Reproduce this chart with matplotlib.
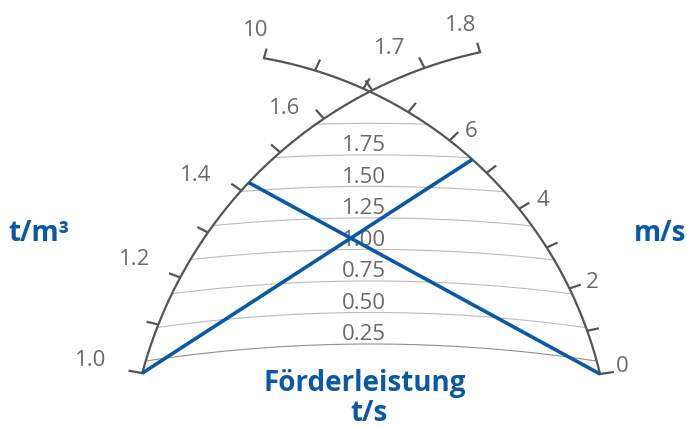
"""Nomogram: Förderleistung (t/s) from bulk density (t/m³) and belt speed (m/s)."""

import numpy as np
import matplotlib.pyplot as plt

# --- data ---------------------------------------------------------------
speed_ticks = [0, 1, 2, 3, 4, 5, 6, 7, 8, 9, 10]  # m/s, right scale
speed_labels = ["0", "", "2", "", "4", "", "6", "", "", "", "10"]
# t/m³, left scale: one entry per tick, evenly spaced along the arc
density_labels = ["1.0", "", "1.2", "", "1.4", "", "1.6", "", "1.7", "1.8"]
capacity_levels = [0.25, 0.50, 0.75, 1.00, 1.25, 1.50, 1.75, 2.00]  # t/s
capacity_labels = ["0.25", "0.50", "0.75", "1.00", "1.25", "1.50", "1.75", ""]

# worked examples: start on density scale (tick position) -> speed (m/s)
example_density_pos = [4.2, 0.0]
example_speed = [0.0, 5.4]

# --- layout / style -------------------------------------------------------
W, H, DPI = 687, 428, 100
GREY = "#555555"
LABEL_GREY = "#6a6a6a"
BLUE = "#0b59a6"
FONT = ["Open Sans", "DejaVu Sans"]

# circles of the two scales in pixel space (y pointing down)
LEFT_C, LEFT_R = (573.5, 488.9), 446.5
RIGHT_C, RIGHT_R = (191.8, 471.8), 419.8
ISO_C = (371.0, 1844.0)

# label offsets from their tick (px, y down), label centre
LABEL_OFFSET = {
    "1.0": (-52, -15), "1.2": (-46, -20), "1.4": (-46, -18),
    "1.6": (-39, -13), "1.7": (-35, -22), "1.8": (-19, -29),
    "0": (22, -10), "2": (23, -8), "4": (24, -11), "6": (22, -11),
    "10": (-8, -30),
}


def density_theta(pos):
    return np.radians(164.97 - 6.515 * pos - 0.0526 * pos ** 2)


def speed_theta(v):
    return np.radians(13.47 + 6.108 * v + 0.0555 * v ** 2)


def iso_radius(q):
    return 1500.0 + 126.1 * (q - 0.25)


def point(centre, r, th):
    return centre[0] + r * np.cos(th), centre[1] - r * np.sin(th)


def draw_tick(ax, p, ang, length):
    ax.plot([p[0], p[0] + length * np.cos(ang)], [p[1], p[1] - length * np.sin(ang)],
            color=GREY, lw=1.6, solid_capstyle="butt", zorder=3)


def draw_label(ax, p, text):
    dx, dy = LABEL_OFFSET[text]
    ax.text(p[0] + dx, p[1] + dy + 8, text, ha="center", va="baseline",
            fontsize=16, color=LABEL_GREY, family=FONT, zorder=2)


fig = plt.figure(figsize=(W / DPI, H / DPI), dpi=DPI)
ax = fig.add_axes([0, 0, 1, 1])
ax.set_xlim(0, W)
ax.set_ylim(H, 0)
ax.axis("off")

# capacity isolines, clipped to the lens between the two scales
for q, lab in zip(capacity_levels, capacity_labels):
    r = iso_radius(q)
    phi = np.linspace(np.radians(75), np.radians(105), 3000)
    x, y = point(ISO_C, r, phi)
    inside = ((np.hypot(x - LEFT_C[0], y - LEFT_C[1]) <= LEFT_R)
              & (np.hypot(x - RIGHT_C[0], y - RIGHT_C[1]) <= RIGHT_R))
    col = "#8f8f8f" if q == capacity_levels[0] else "#bcbcbc"
    ax.plot(x[inside], y[inside], color=col, lw=0.8, zorder=1)
    if lab:
        ax.text(ISO_C[0] - 7, ISO_C[1] - r - 3.5, lab, ha="center", va="baseline",
                fontsize=16, color=LABEL_GREY, family=FONT, zorder=2)

# left scale: density
n = len(density_labels)
th = np.linspace(density_theta(0), density_theta(n - 1), 300)
ax.plot(*point(LEFT_C, LEFT_R, th), color=GREY, lw=1.6, zorder=3)
for i, lab in enumerate(density_labels):
    t = density_theta(i)
    p = point(LEFT_C, LEFT_R, t)
    end = i in (0, n - 1)
    length = 14 if i == 0 else (10 if i == n - 1 else 12)
    draw_tick(ax, p, t + np.radians(5 if end else 8), length)
    if lab:
        draw_label(ax, p, lab)

# right scale: speed
th = np.linspace(speed_theta(speed_ticks[0]), speed_theta(speed_ticks[-1]), 300)
ax.plot(*point(RIGHT_C, RIGHT_R, th), color=GREY, lw=1.6, zorder=3)
for v, lab in zip(speed_ticks, speed_labels):
    t = speed_theta(v)
    p = point(RIGHT_C, RIGHT_R, t)
    end = v in (speed_ticks[0], speed_ticks[-1])
    length = 14 if v == speed_ticks[0] else (10 if v == speed_ticks[-1] else 12)
    draw_tick(ax, p, t - np.radians(5 if end else 8), length)
    if lab:
        draw_label(ax, p, lab)

# example reading lines
for d, s in zip(example_density_pos, example_speed):
    p1 = point(LEFT_C, LEFT_R, density_theta(d))
    p2 = point(RIGHT_C, RIGHT_R, speed_theta(s))
    ax.plot([p1[0], p2[0]], [p1[1], p2[1]], color=BLUE, lw=2.6,
            solid_capstyle="butt", zorder=4)

# axis titles
title_kw = dict(color=BLUE, family=FONT, fontweight="bold", fontsize=20)
ax.text(39, 241, "t/m³", ha="center", va="baseline", **title_kw)
ax.text(660, 241, "m/s", ha="center", va="baseline", **title_kw)
ax.text(365, 391, "Förderleistung", ha="center", va="baseline", **title_kw)
ax.text(369, 421, "t/s", ha="center", va="baseline", **title_kw)

fig.savefig("out.png", dpi=DPI)
